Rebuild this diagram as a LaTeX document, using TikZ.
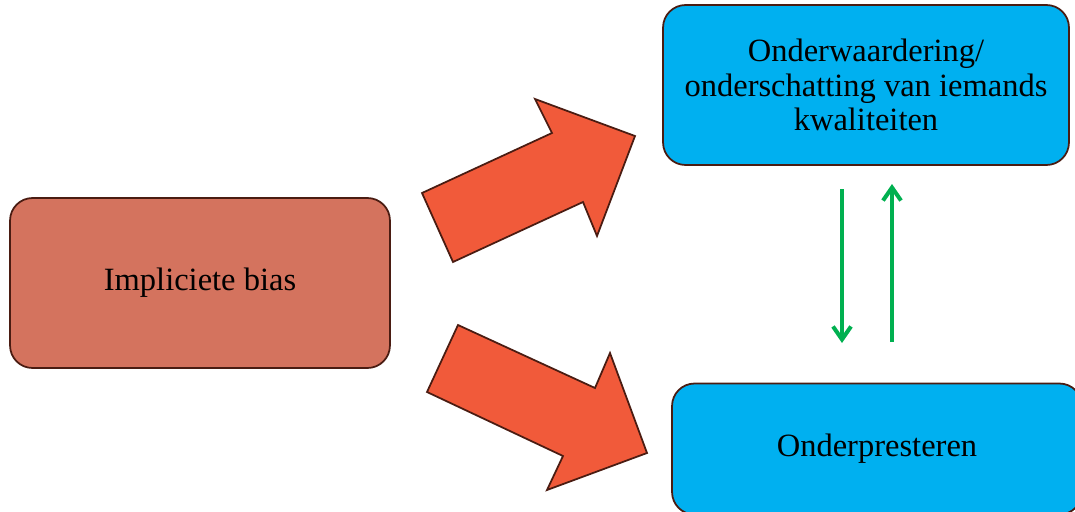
\documentclass[tikz,border=0pt]{standalone}
\usepackage{fontspec}
\setmainfont{Liberation Serif}
\usepackage{tikz}
\usetikzlibrary{arrows.meta}
\definecolor{brick}{HTML}{D4735E}
\definecolor{skyblue}{HTML}{00B0F0}
\definecolor{arroworange}{HTML}{F15A3A}
\definecolor{darkbrown}{HTML}{4A1C12}
\definecolor{leafgreen}{HTML}{00B050}

\begin{document}
\begin{tikzpicture}[x=0.02cm,y=-0.02cm,
  box/.style={draw=darkbrown,line width=1pt,rounded corners=0.45cm,align=center,inner sep=0pt,
    font=\fontsize{18.5}{19.5}\selectfont},
  bigarrow/.style={draw=darkbrown,line width=1pt,fill=arroworange,line join=miter},
  greenarrow/.style={draw=leafgreen,line width=2.3pt,-{Straight Barb[length=2.6mm,width=3.6mm]}}]
\useasboundingbox (0,0) rectangle (1075,511);
\clip (0,0) rectangle (1075,511);

% the three boxes
\node[box,fill=brick,minimum width=7.6cm,minimum height=3.4cm] (bias) at (200,283) {Impliciete bias};
\node[box,fill=skyblue,minimum width=8.12cm,minimum height=3.2cm] (under) at (866,85)
  {Onderwaardering/\\onderschatting van iemands\\kwaliteiten};
\node[box,fill=skyblue,minimum width=8.2cm,minimum height=2.62cm] (perf) at (877,449) {Onderpresteren};

% block arrows
\draw[bigarrow] (422,193) -- (552,133) -- (535,99) -- (635,136) -- (597,236) -- (583,202) -- (453,262) -- cycle;
\draw[bigarrow] (458,325) -- (595,388) -- (610,353) -- (647,453) -- (547,490) -- (563,456) -- (427,392) -- cycle;

% feedback between the two right boxes
\coordinate (downtop) at (842,189);
\coordinate (downend) at (842,343);
\coordinate (upbot) at (892,342);
\coordinate (upend) at (892,184);
\draw[greenarrow] (downtop) -- (downend);
\draw[greenarrow] (upbot) -- (upend);
\end{tikzpicture}
\end{document}
